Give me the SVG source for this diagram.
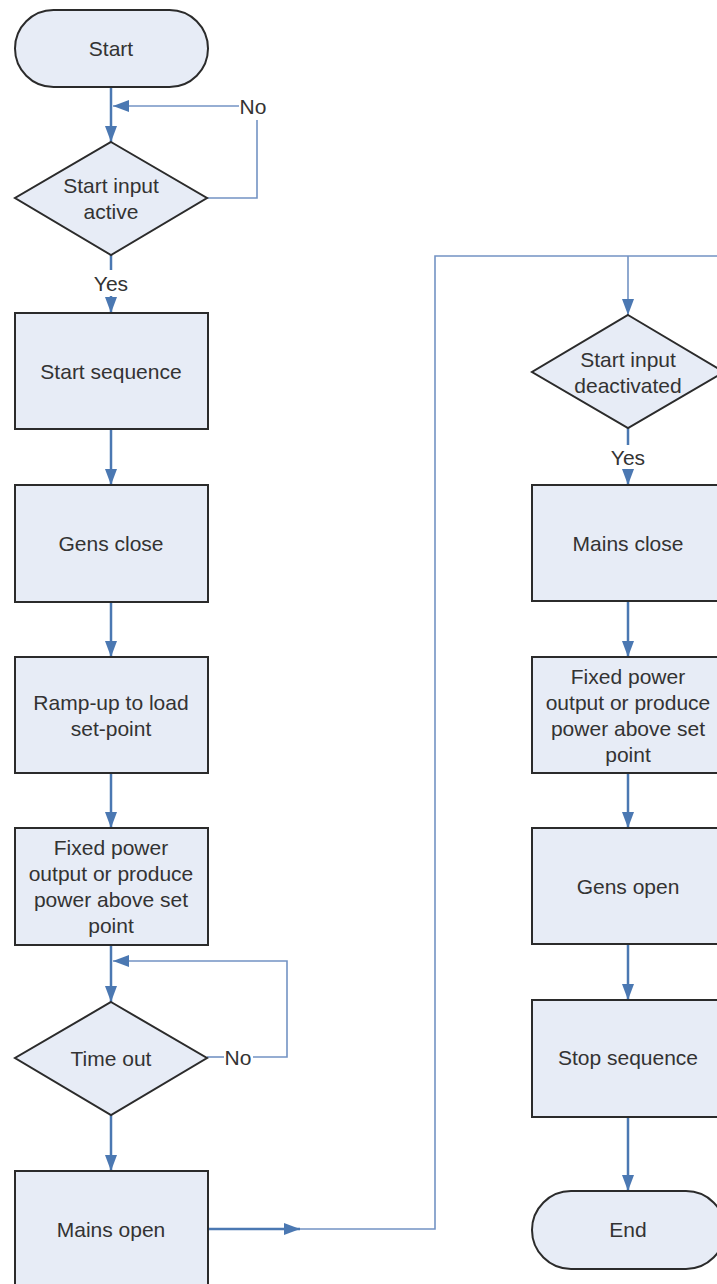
<svg xmlns="http://www.w3.org/2000/svg" width="717" height="1284" viewBox="0 0 717 1284">
<style>
.box{fill:#e7ecf6;stroke:#2b2b2b;stroke-width:2}
.t{font-family:"Liberation Sans",Arial,sans-serif;font-size:21px;fill:#333;text-anchor:middle;dominant-baseline:central}
.c{fill:none;stroke:#4b78b2;stroke-width:2.5}
.l{fill:none;stroke:#7393c4;stroke-width:1.6}
</style>
<defs>
<marker id="ah" viewBox="0 0 16 12" refX="16" refY="6" markerWidth="16" markerHeight="12" markerUnits="userSpaceOnUse" orient="auto">
<path d="M0,0 L16,6 L0,12 Z" fill="#4b78b2"/>
</marker>
</defs>
<rect width="717" height="1284" fill="#ffffff"/>
<g id="connectors">
<path class="c" d="M111,87 V142" marker-end="url(#ah)"/>
<path class="l" d="M207,198 H257 V120"/>
<path class="l" d="M239,106 H113" marker-end="url(#ah)"/>
<path class="c" d="M111,255 V270"/>
<path class="c" d="M111,296 V313" marker-end="url(#ah)"/>
<path class="c" d="M111,429 V485" marker-end="url(#ah)"/>
<path class="c" d="M111,602 V657" marker-end="url(#ah)"/>
<path class="c" d="M111,773 V828" marker-end="url(#ah)"/>
<path class="c" d="M111,945 V1002" marker-end="url(#ah)"/>
<path class="l" d="M207,1057 H224"/>
<path class="l" d="M253,1057 H287 V961 H113" marker-end="url(#ah)"/>
<path class="c" d="M111,1115 V1171" marker-end="url(#ah)"/>
<path class="c" d="M208,1229 H300" marker-end="url(#ah)"/>
<path class="l" d="M300,1229 H435 V256 H717"/>
<path class="l" d="M628,256 V315" marker-end="url(#ah)"/>
<path class="c" d="M628,428 V445"/>
<path class="c" d="M628,470 V485" marker-end="url(#ah)"/>
<path class="c" d="M628,601 V657" marker-end="url(#ah)"/>
<path class="c" d="M628,773 V828" marker-end="url(#ah)"/>
<path class="c" d="M628,944 V1000" marker-end="url(#ah)"/>
<path class="c" d="M628,1117 V1191" marker-end="url(#ah)"/>
<text class="t" x="253" y="106">No</text>
<text class="t" x="111" y="283">Yes</text>
<text class="t" x="238" y="1057">No</text>
<text class="t" x="628" y="457">Yes</text>
</g>
<g id="start">
<rect class="box" x="15" y="10" width="193" height="77" rx="38.5"/>
<text class="t" x="111" y="48">Start</text>
</g>
<g id="start-input-active">
<path class="box" d="M111,142 L207,198 L111,255 L15,198 Z"/>
<text class="t" x="111" y="185">Start input</text>
<text class="t" x="111" y="211">active</text>
</g>
<g id="start-sequence">
<rect class="box" x="15" y="313" width="193" height="116"/>
<text class="t" x="111" y="371">Start sequence</text>
</g>
<g id="gens-close">
<rect class="box" x="15" y="485" width="193" height="117"/>
<text class="t" x="111" y="543">Gens close</text>
</g>
<g id="ramp-up">
<rect class="box" x="15" y="657" width="193" height="116"/>
<text class="t" x="111" y="702">Ramp-up to load</text>
<text class="t" x="111" y="728">set-point</text>
</g>
<g id="fixed-power-1">
<rect class="box" x="15" y="828" width="193" height="117"/>
<text class="t" x="111" y="847">Fixed power</text>
<text class="t" x="111" y="873">output or produce</text>
<text class="t" x="111" y="899">power above set</text>
<text class="t" x="111" y="925">point</text>
</g>
<g id="time-out">
<path class="box" d="M111,1002 L207,1058 L111,1115 L15,1058 Z"/>
<text class="t" x="111" y="1058">Time out</text>
</g>
<g id="mains-open">
<rect class="box" x="15" y="1171" width="193" height="117"/>
<text class="t" x="111" y="1229">Mains open</text>
</g>
<g id="start-input-deactivated">
<path class="box" d="M628,315 L724,372 L628,428 L532,372 Z"/>
<text class="t" x="628" y="359">Start input</text>
<text class="t" x="628" y="385">deactivated</text>
</g>
<g id="mains-close">
<rect class="box" x="532" y="485" width="193" height="116"/>
<text class="t" x="628" y="543">Mains close</text>
</g>
<g id="fixed-power-2">
<rect class="box" x="532" y="657" width="193" height="116"/>
<text class="t" x="628" y="676">Fixed power</text>
<text class="t" x="628" y="702">output or produce</text>
<text class="t" x="628" y="728">power above set</text>
<text class="t" x="628" y="754">point</text>
</g>
<g id="gens-open">
<rect class="box" x="532" y="828" width="193" height="116"/>
<text class="t" x="628" y="886">Gens open</text>
</g>
<g id="stop-sequence">
<rect class="box" x="532" y="1000" width="193" height="117"/>
<text class="t" x="628" y="1057">Stop sequence</text>
</g>
<g id="end">
<rect class="box" x="532" y="1191" width="193" height="78" rx="39"/>
<text class="t" x="628" y="1229">End</text>
</g>
</svg>
